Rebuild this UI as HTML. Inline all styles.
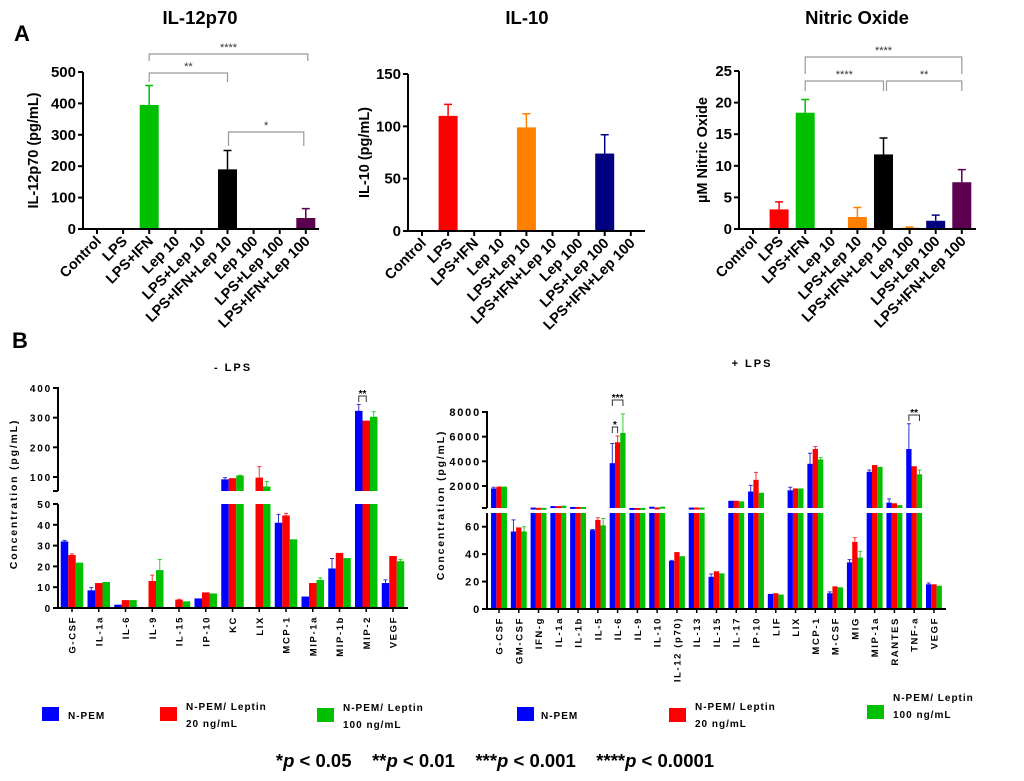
<!DOCTYPE html>
<html><head><meta charset="utf-8">
<style>
html,body{margin:0;padding:0;background:#fff;}
svg{display:block;font-family:"Liberation Sans",Arial,sans-serif;}
.b{font-weight:bold;}
</style></head>
<body>
<svg id="fig" width="1024" height="781" viewBox="0 0 1024 781">
<text x="14" y="41" class="b" font-size="22">A</text>
<text x="12" y="348" class="b" font-size="22">B</text>
<text x="200" y="24" class="b" font-size="18.5" text-anchor="middle">IL-12p70</text>
<text x="527" y="24" class="b" font-size="18.5" text-anchor="middle">IL-10</text>
<text x="857" y="24" class="b" font-size="18.5" text-anchor="middle">Nitric Oxide</text>
<text x="233" y="371" class="b" font-size="11" letter-spacing="2" text-anchor="middle">- LPS</text>
<text x="752" y="367" class="b" font-size="11" letter-spacing="2" text-anchor="middle">+ LPS</text>
<g id="legend">
<rect x="42" y="707" width="17" height="14" fill="#0000ff"/>
<text x="68" y="719" class="b" font-size="10" letter-spacing="1">N-PEM</text>
<rect x="160" y="707" width="17" height="14" fill="#ff0000"/>
<text x="186" y="710" class="b" font-size="10" letter-spacing="1">N-PEM/ Leptin<tspan x="186" dy="17">20 ng/mL</tspan></text>
<rect x="317" y="708" width="17" height="14" fill="#00c000"/>
<text x="343" y="711" class="b" font-size="10" letter-spacing="1">N-PEM/ Leptin<tspan x="343" dy="17">100 ng/mL</tspan></text>
<rect x="517" y="707" width="17" height="14" fill="#0000ff"/>
<text x="541" y="719" class="b" font-size="10" letter-spacing="1">N-PEM</text>
<rect x="669" y="708" width="17" height="14" fill="#ff0000"/>
<text x="695" y="710" class="b" font-size="10" letter-spacing="1">N-PEM/ Leptin<tspan x="695" dy="17">20 ng/mL</tspan></text>
<rect x="867" y="705" width="17" height="14" fill="#00c000"/>
<text x="893" y="701" class="b" font-size="10" letter-spacing="1">N-PEM/ Leptin<tspan x="893" dy="17">100 ng/mL</tspan></text>
</g>
<text x="495" y="767" class="b" font-size="18.5" text-anchor="middle">*<tspan font-style="italic">p</tspan> &lt; 0.05 &#160;&#160; **<tspan font-style="italic">p</tspan> &lt; 0.01 &#160;&#160; ***<tspan font-style="italic">p</tspan> &lt; 0.001 &#160;&#160; ****<tspan font-style="italic">p</tspan> &lt; 0.0001</text>
</svg>
<script>
const catsA = ['Control','LPS','LPS+IFN','Lep 10','LPS+Lep 10','LPS+IFN+Lep 10','Lep 100','LPS+Lep 100','LPS+IFN+Lep 100'];
const colorsA = ['#000','#ff0000','#00c000','#888','#ff8000','#000','#ff8000','#000080','#5c0050'];
const il12Vals = [0,0,395,0,0,190,0,0,35];
const il12Err  = [0,0,62,0,0,60,0,0,30];
const il12Ticks = [0,100,200,300,400,500];
const il10Vals = [0,110,0,0,99,0,0,74,0];
const il10Err  = [0,11,0,0,13,0,0,18,0];
const il10Ticks = [0,50,100,150];
const noVals = [0,3.1,18.4,0,1.9,11.8,0.2,1.3,7.4];
const noErr  = [0,1.2,2.1,0,1.5,2.6,0.1,0.9,2.0];
const noTicks = [0,5,10,15,20,25];

const catsL = ['G-CSF','IL-1a','IL-6','IL-9','IL-15','IP-10','KC','LIX','MCP-1','MIP-1a','MIP-1b','MIP-2','VEGF'];
const lBlue  = [32,8.5,1.6,0,0,4.6,92,0,41,5.5,19,323,12];
const lRed   = [25.5,12,3.8,13,4,7.5,96,98,44.5,12,26.5,290,25];
const lGreen = [21.8,12.5,3.8,18.2,3.2,7,105,68,33,13.5,24,303,22.5];
const lBlueErr  = [0.5,1.3,0,0,0,0,6,0,4,0,4.8,22,1.5];
const lRedErr   = [0.5,0,0,2.8,0.2,0,0,37,1,0,0,0,0];
const lGreenErr = [0,0,0,5.1,0,0,1,17,0,1,0,17,0.8];
const lLowTicks = [0,10,20,30,40,50];
const lUpTicks = [100,200,300,400];

const catsR = ['G-CSF','GM-CSF','IFN-g','IL-1a','IL-1b','IL-5','IL-6','IL-9','IL-10','IL-12 (p70)','IL-13','IL-15','IL-17','IP-10','LIF','LIX','MCP-1','M-CSF','MIG','MIP-1a','RANTES','TNF-a','VEGF'];
const rBlue  = [1800,56.5,250,370,300,57.5,3850,220,320,35,250,23.5,800,1550,11,1650,3800,11.5,34,3150,650,5000,18];
const rRed   = [1950,59.5,230,370,300,65,5550,220,260,41.5,250,27.5,800,2500,11.5,1800,5000,16.5,49,3700,600,3600,18];
const rGreen = [1950,56.5,230,400,300,61,6300,220,320,38.5,250,26,750,1450,10.5,1800,4150,15.8,37.5,3550,450,2950,17];
const rBlueErr  = [100,8.5,0,0,0,0.5,1600,0,0,0.5,0,2,0,500,0,250,850,1,2,150,300,2050,1];
const rRedErr   = [0,0,0,0,0,1.5,500,0,0,0,0,0,0,600,0,0,200,0,3,0,0,0,0];
const rGreenErr = [0,3.5,0,0,0,5,1550,0,0,0,0,0,0,0,0,0,150,0,4.5,0,0,350,0];
const rLowTicks = [0,20,40,60];
const rUpTicks = [2000,4000,6000,8000];

const NS='http://www.w3.org/2000/svg';
const svg=document.getElementById('fig');
function mk(tag,attrs,parent){const e=document.createElementNS(NS,tag);for(const k in attrs)e.setAttribute(k,attrs[k]);(parent||svg).appendChild(e);return e;}

function chartA(o){
  const g=mk('g',{});
  
  
  const y=v=>o.y0-v/o.max*(o.y0-o.yTop);
  const x=i=>o.x1+i*o.step;
  o.vals.forEach((v,i)=>{
    if(v<=0)return;
    const c=colorsA[i];
    const r=mk('rect',{x:x(i)-9.5,y:y(v),width:19,height:o.y0-y(v),fill:c},g);
    
    
    const e=o.errs[i];
    if(e>0){
      const l=mk('path',{d:`M${x(i)} ${y(v)}V${y(v+e)}M${x(i)-4} ${y(v+e)}H${x(i)+4}`,stroke:c,'stroke-width':1.5,fill:'none'},g);
      
      
    }
  });
  const ax=mk('path',{d:`M${o.ax} ${o.yTop}V${o.y0}H${o.xEnd}`,stroke:'#000','stroke-width':2,fill:'none'},g);
  
  
  o.ticks.forEach(t=>{
    mk('line',{x1:o.ax-5,x2:o.ax,y1:y(t),y2:y(t),stroke:'#000','stroke-width':2},g);
    const tl=mk('text',{x:o.ax-7,y:y(t)+5,'text-anchor':'end','font-size':15,'font-weight':'bold'},g);
    tl.textContent=t;
    
    
  });
  catsA.forEach((c,i)=>{
    mk('line',{x1:x(i),x2:x(i),y1:o.y0,y2:o.y0+5,stroke:'#000','stroke-width':2},g);
    const tl=mk('text',{x:x(i)+5,y:o.y0+13,'text-anchor':'end','font-size':14.5,'font-weight':'bold',transform:`rotate(-45 ${x(i)+5} ${o.y0+13})`},g);
    tl.textContent=c;
    
    
  });
  const yl=mk('text',{x:o.ylx,y:(o.y0+o.yTop)/2,'text-anchor':'middle','font-size':14.5,'font-weight':'bold',transform:`rotate(-90 ${o.ylx} ${(o.y0+o.yTop)/2})`},g);
  yl.textContent=o.ylabel;
  
  
  (o.sig||[]).forEach(s=>{
    const a=x(s[0])+(s[4]||0),b=x(s[1])+(s[5]||0);
    const p=mk('path',{d:`M${a} ${s[2]+s[3]}V${s[2]}H${b}V${s[2]+s[3]}`,stroke:'#999','stroke-width':1.2,fill:'none'},g);
    
    
    const t=mk('text',{x:(a+b)/2,y:s[2]-3,'text-anchor':'middle','font-size':11,fill:'#333'},g);
    t.textContent=s[6];
    
    
  });
}
chartA({name:'il12',vals:il12Vals,errs:il12Err,ticks:il12Ticks,max:500,ax:83,y0:229,yTop:72,xEnd:319,x1:97,step:26.1,ylx:38,ylabel:'IL-12p70 (pg/mL)',
  sig:[[2,5,73,9,0,0,'**'],[2,8,54,7,0,2,'****'],[5,8,132,14,1,-2,'*']]});
chartA({name:'il10',vals:il10Vals,errs:il10Err,ticks:il10Ticks,max:150,ax:408,y0:231,yTop:74,xEnd:645,x1:422,step:26.1,ylx:369,ylabel:'IL-10 (pg/mL)'});
chartA({name:'nitric-oxide',vals:noVals,errs:noErr,ticks:noTicks,max:25,ax:739,y0:229,yTop:71,xEnd:976,x1:753,step:26.1,ylx:707,ylabel:'\u00b5M Nitric Oxide',
  sig:[[2,8,57,17,0,0,'****'],[2,5,81,10,0,0,'****'],[5,8,81,10,3,0,'**']]});

const colB=['#0000ff','#ff0000','#00c000'];
const errColB=['#3333cc','#ff3333','#33cc33'];
function chartB(o){
  const g=mk('g',{});
  
  
  const yLow=v=>o.y0-v/o.lowMax*(o.y0-o.lowTop);
  const yUp=v=>o.upBase-(v-o.upMin)/(o.upRefV-o.upMin)*(o.upBase-o.upRefY);
  const yv=v=>v<=o.lowMax?yLow(v):yUp(Math.max(v,o.upMin));
  const x=i=>o.x1+i*o.step;
  const series=[o.blue,o.red,o.green], errs=[o.be,o.re,o.ge];
  o.cats.forEach((c,i)=>{
    series.forEach((s,j)=>{
      const v=s[i]; if(v<=0)return;
      const bx=x(i)+(j-1)*o.bw-o.bw/2;
      const lowV=Math.min(v,o.lowMax);
      const r=mk('rect',{x:bx,y:yLow(lowV),width:o.bw,height:o.y0-yLow(lowV),fill:colB[j]},g);
      
      
      if(v>o.lowMax){
        const top=yUp(Math.max(v,o.upMin));
        const r2=mk('rect',{x:bx,y:top,width:o.bw,height:Math.max(o.upBase-top,2),fill:colB[j]},g);
        
        
      }
      const e=errs[j][i];
      if(e>0){
        const cx=bx+o.bw/2;
        const l=mk('path',{d:`M${cx} ${yv(v)}V${yv(v+e)}M${cx-2} ${yv(v+e)}H${cx+2}`,stroke:errColB[j],'stroke-width':1,fill:'none'},g);
        
        
      }
    });
    mk('line',{x1:x(i),x2:x(i),y1:o.y0,y2:o.y0+4,stroke:'#000','stroke-width':1.5},g);
    const tl=mk('text',{x:x(i)+3.5,y:o.y0+8,'text-anchor':'end','font-size':9.5,'font-weight':'bold','letter-spacing':1.6,transform:`rotate(-90 ${x(i)+3.5} ${o.y0+8})`},g);
    tl.textContent=c;
    
    
  });
  const ax=mk('path',{d:`M${o.ax} ${o.lowTop}V${o.y0}H${o.xEnd}M${o.ax} ${o.upBase}V${yUp(o.upTicks[o.upTicks.length-1])-1}`,stroke:'#000','stroke-width':2,fill:'none'},g);
  
  
  mk('line',{x1:o.ax-5,x2:o.ax,y1:o.upBase,y2:o.upBase,stroke:'#000','stroke-width':2},g);
  o.lowTicks.forEach(t=>{
    mk('line',{x1:o.ax-5,x2:o.ax,y1:yLow(t),y2:yLow(t),stroke:'#000','stroke-width':2},g);
    const tl=mk('text',{x:o.ax-6,y:yLow(t)+4,'text-anchor':'end','font-size':o.tf,'font-weight':'bold','letter-spacing':1.8},g);
    tl.textContent=t;
    
    
  });
  o.upTicks.forEach(t=>{
    mk('line',{x1:o.ax-5,x2:o.ax,y1:yUp(t),y2:yUp(t),stroke:'#000','stroke-width':2},g);
    const tl=mk('text',{x:o.ax-6,y:yUp(t)+4,'text-anchor':'end','font-size':o.tf,'font-weight':'bold','letter-spacing':1.8},g);
    tl.textContent=t;
    
    
  });
  const cy=o.ylY;
  const yl=mk('text',{x:o.ylx,y:cy,'text-anchor':'middle','font-size':10.5,'font-weight':'bold','letter-spacing':1.8,transform:`rotate(-90 ${o.ylx} ${cy})`},g);
  yl.textContent='Concentration (pg/mL)';
  
  
  (o.sig||[]).forEach(s=>{
    const a=x(s[0])+(s[1]-1)*o.bw, b=x(s[0])+(s[2]-1)*o.bw;
    const p=mk('path',{d:`M${a} ${s[3]+6}V${s[3]}H${b}V${s[3]+6}`,stroke:'#333','stroke-width':1,fill:'none'},g);
    
    
    const t=mk('text',{x:(a+b)/2,y:s[3]+1,'text-anchor':'middle','font-size':10,'font-weight':'bold'},g);
    t.textContent=s[4];
    
    
  });
}
chartB({name:'minus-lps',cats:catsL,blue:lBlue,red:lRed,green:lGreen,be:lBlueErr,re:lRedErr,ge:lGreenErr,
  lowTicks:lLowTicks,upTicks:lUpTicks,ax:58,y0:608,lowTop:504,lowMax:50,upBase:491,upMin:52.8,upRefV:400,upRefY:388,
  xEnd:408,x1:72,step:26.75,bw:7.5,ylx:17,ylY:494,tf:10,sig:[[11,0,1,396,'**']]});
chartB({name:'plus-lps',cats:catsR,blue:rBlue,red:rRed,green:rGreen,be:rBlueErr,re:rRedErr,ge:rGreenErr,
  lowTicks:rLowTicks,upTicks:rUpTicks,ax:487,y0:609,lowTop:513,lowMax:70,upBase:508,upMin:215,upRefV:8000,upRefY:412,
  xEnd:946,x1:499,step:19.77,bw:5.3,ylx:444,ylY:505,tf:11,sig:[[6,0,1,427,'*'],[6,0,2,400,'***'],[21,0,2,415,'**']]});
</script>
</body></html>
